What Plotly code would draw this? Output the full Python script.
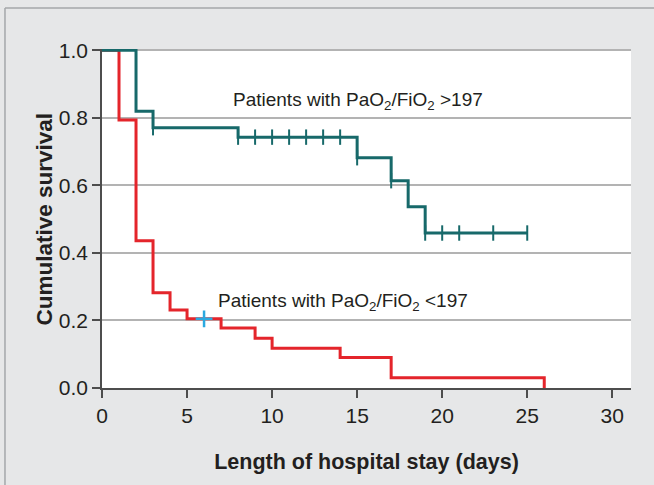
import plotly.graph_objects as go

# ---- data ----
high_x = [0, 2, 3, 8, 15, 17, 18, 19, 25]
high_y = [1.0, 0.82, 0.771, 0.743, 0.682, 0.614, 0.537, 0.459, 0.459]
high_cens_x = [3, 8, 9, 10, 11, 12, 13, 14, 15, 17, 19, 20, 21, 23, 25]
high_cens_y = [0.771, 0.743, 0.743, 0.743, 0.743, 0.743, 0.743, 0.743,
               0.682, 0.614, 0.459, 0.459, 0.459, 0.459, 0.459]

low_x = [0, 1, 2, 3, 4, 5, 7, 9, 10, 14, 17, 26]
low_y = [1.0, 0.794, 0.436, 0.282, 0.231, 0.205, 0.178, 0.147, 0.118, 0.09, 0.03, 0.0]
low_cens_x = [6]
low_cens_y = [0.205]

x_ticks = [0, 5, 10, 15, 20, 25, 30]
y_ticks = [0.0, 0.2, 0.4, 0.6, 0.8, 1.0]
y_ticktext = ["0.0", "0.2", "0.4", "0.6", "0.8", "1.0"]

GREEN = "#17696a"
RED = "#e4252b"
BLUE = "#2aa9e0"
TEXT = "#231f20"
FONT = "Liberation Sans, Arial, sans-serif"

fig = go.Figure()
fig.add_trace(go.Scatter(x=low_x, y=low_y, mode="lines", line=dict(color=RED, width=3, shape="hv"),
                         hoverinfo="skip", showlegend=False))
fig.add_trace(go.Scatter(x=low_cens_x, y=low_cens_y, mode="markers",
                         marker=dict(symbol="cross-thin", size=12, line=dict(color=BLUE, width=2.5)),
                         showlegend=False))
fig.add_trace(go.Scatter(x=high_x, y=high_y, mode="lines", line=dict(color=GREEN, width=3, shape="hv"),
                         showlegend=False))
fig.add_trace(go.Scatter(x=high_cens_x, y=high_cens_y, mode="markers",
                         marker=dict(symbol="line-ns", size=11, line=dict(color=GREEN, width=2)),
                         showlegend=False))

fig.add_annotation(x=7.6, y=0.85, xref="x", yref="y", xanchor="left", yanchor="middle",
                   text="Patients with PaO<sub>2</sub>/FiO<sub>2</sub> &gt;197", showarrow=False,
                   font=dict(size=19, color=TEXT, family=FONT))
fig.add_annotation(x=6.7, y=0.254, xref="x", yref="y", xanchor="left", yanchor="middle",
                   text="Patients with PaO<sub>2</sub>/FiO<sub>2</sub> &lt;197", showarrow=False,
                   font=dict(size=19, color=TEXT, family=FONT))

# y-axis title
fig.add_annotation(x=-0.1078, y=0.5, xref="paper", yref="paper", xanchor="center", yanchor="middle",
                   text="<b>Cumulative survival</b>", textangle=-90, showarrow=False,
                   font=dict(size=22.5, color=TEXT, family=FONT))

# outer panel border (left and top edges)
fig.add_shape(type="line", xref="paper", yref="paper", x0=-0.1834, x1=-0.1834, y0=-0.3, y1=1.121,
              line=dict(color="#a5a7aa", width=1.5))
fig.add_shape(type="line", xref="paper", yref="paper", x0=-0.1834, x1=1.1, y0=1.121, y1=1.121,
              line=dict(color="#a5a7aa", width=1.5))

fig.update_layout(
    width=654, height=485,
    margin=dict(l=102, r=23, t=49, b=97),
    paper_bgcolor="#e6e7e8",
    plot_bgcolor="white",
    font=dict(family=FONT, color=TEXT, size=21),
    xaxis=dict(range=[0, 31.1], tickvals=x_ticks, ticks="outside", ticklen=8, tickwidth=1.5,
               tickcolor="#4d4d4d", showline=True, linecolor="#4d4d4d", linewidth=1.5,
               showgrid=False, zeroline=False, tickfont=dict(size=21, color=TEXT),
               title=dict(text="<b>Length of hospital stay (days)</b>", font=dict(size=21.5, color=TEXT),
                          standoff=28)),
    yaxis=dict(range=[0, 1.004], tickvals=y_ticks, ticktext=y_ticktext, ticks="outside", ticklen=8,
               tickwidth=1.5, tickcolor="#4d4d4d", showline=True, linecolor="#4d4d4d", linewidth=1.5,
               showgrid=True, gridcolor="#b3b3b3", gridwidth=1.5, zeroline=False,
               tickfont=dict(size=21, color=TEXT)),
)

fig.write_html("out.html")
